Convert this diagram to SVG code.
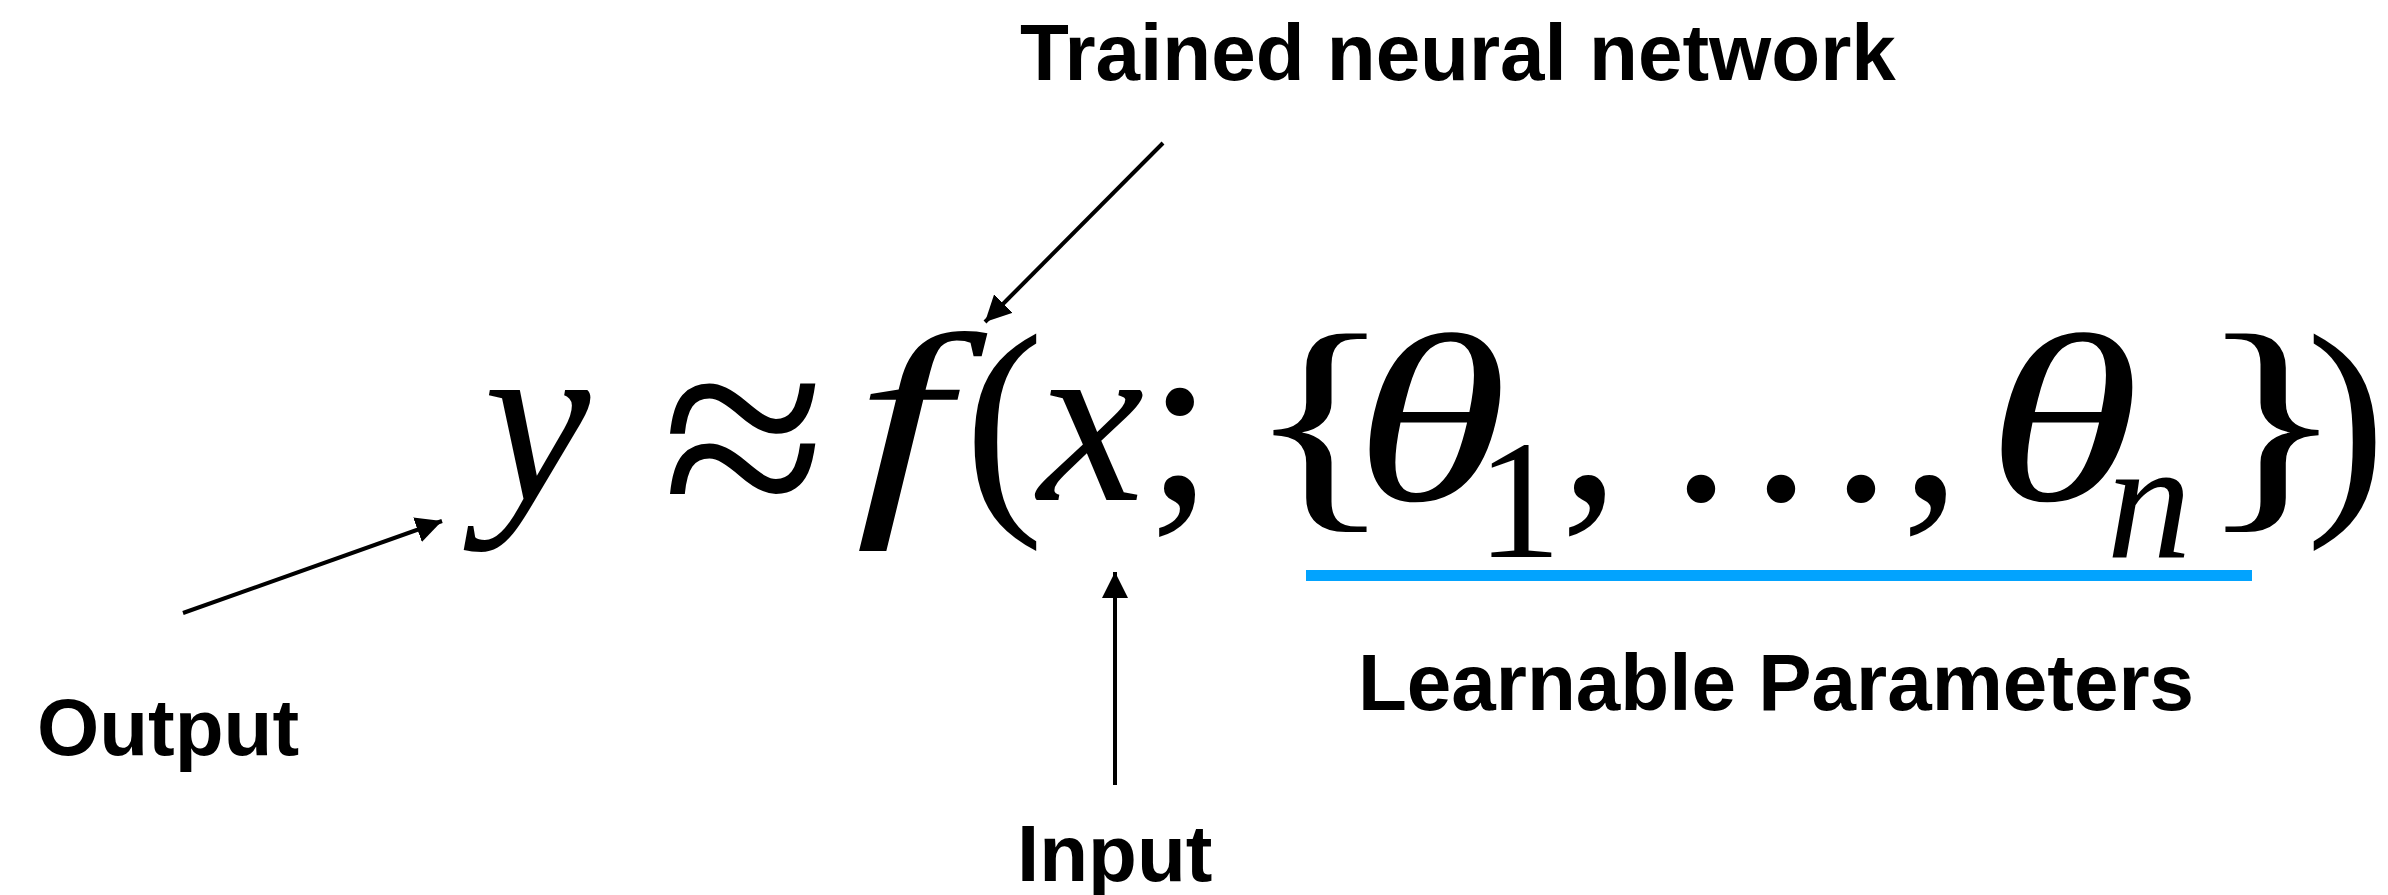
<svg xmlns="http://www.w3.org/2000/svg" width="2388" height="895" viewBox="0 0 2388 895">
  <style>
    .label { font-family: "Liberation Sans", Arial, sans-serif; font-weight: bold; font-size: 80px; fill: #000; }
    .math { font-family: "Liberation Serif", "Times New Roman", serif; font-size: 240px; fill: #000; }
    .it { font-style: italic; }
    .sub { font-size: 170px; }
    .conn { stroke: #000; stroke-width: 4; fill: none; }
  </style>
  <defs>
    <marker id="ah" markerUnits="userSpaceOnUse" markerWidth="26" markerHeight="26" refX="26" refY="13" orient="auto">
      <path d="M0,0 L26,13 L0,26 z" fill="#000"/>
    </marker>
  </defs>
  <rect width="2388" height="895" fill="#fff"/>

  <g id="formula">
    <text class="math" y="500" text-anchor="middle"><tspan class="it" x="537">y</tspan><tspan x="1004">(</tspan><tspan class="it" x="1091">x</tspan><tspan x="1180">;</tspan><tspan x="1590">,</tspan><tspan x="1701">.</tspan><tspan x="1781">.</tspan><tspan x="1861">.</tspan><tspan x="1931">,</tspan><tspan x="2346">)</tspan></text>
    <text class="math" x="744" y="538" text-anchor="middle" style="font-size:300px">≈</text>
    <text class="math it" transform="translate(902,500) scale(1.4,1)" x="0" y="0" text-anchor="middle">f</text>
    <text class="math" transform="translate(1320,500) scale(1.3,1)" x="0" y="0" text-anchor="middle">{</text>
    <text class="math it" transform="translate(1431,500) scale(1.3,1)" x="0" y="0" text-anchor="middle">θ</text>
    <text class="math it" transform="translate(2063,500) scale(1.3,1)" x="0" y="0" text-anchor="middle">θ</text>
    <text class="math" transform="translate(2272,500) scale(1.3,1)" x="0" y="0" text-anchor="middle">}</text>
    <text class="math sub" y="557" text-anchor="middle"><tspan x="1519">1</tspan><tspan class="it" x="2149">n</tspan></text>
  </g>

  <g id="params-underline">
    <rect x="1306" y="570" width="946" height="11" fill="#02A3FE"/>
  </g>

  <g id="label-trained">
    <text class="label" x="1020" y="80">Trained neural network</text>
  </g>
  <g id="label-learnable">
    <text class="label" x="1358" y="710">Learnable Parameters</text>
  </g>
  <g id="label-output">
    <text class="label" x="37" y="755">Output</text>
  </g>
  <g id="label-input">
    <text class="label" x="1017" y="881">Input</text>
  </g>

  <g id="connectors">
    <path class="conn" d="M1163,143 L985,322" marker-end="url(#ah)"/>
    <path class="conn" d="M183,613 L442,521" marker-end="url(#ah)"/>
    <path class="conn" d="M1115,785 L1115,572" marker-end="url(#ah)"/>
  </g>
</svg>
